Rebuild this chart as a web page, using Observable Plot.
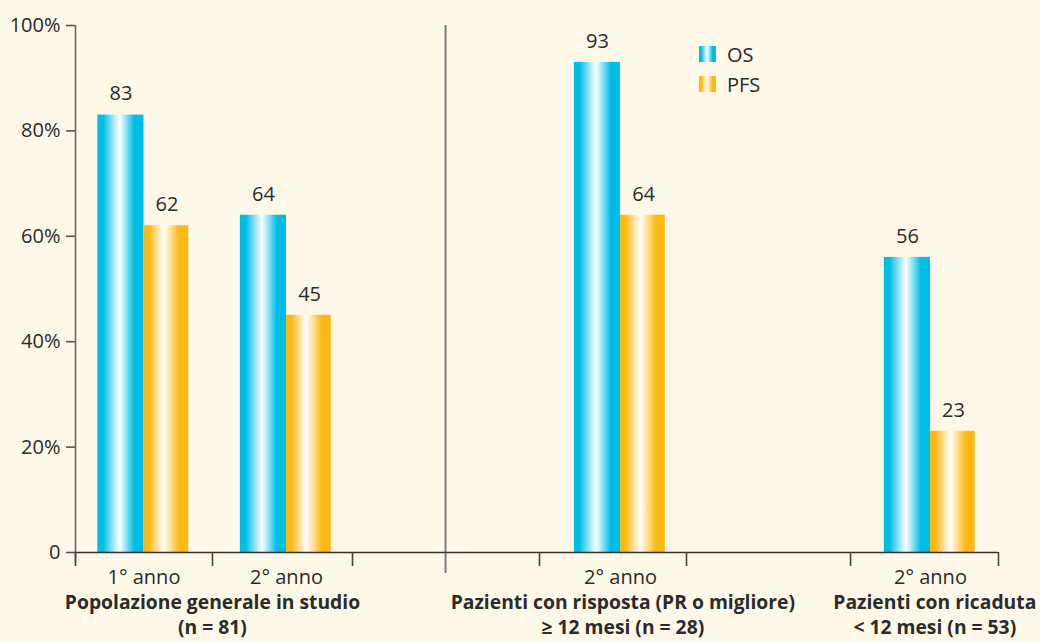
<!DOCTYPE html>
<html>
<head>
<meta charset="utf-8">
<script src="https://cdn.jsdelivr.net/npm/d3@7"></script>
<script src="https://cdn.jsdelivr.net/npm/@observablehq/plot@0.6"></script>
<style>
  html, body { margin: 0; padding: 0; background: #fef8e8; }
  #wrap { position: relative; width: 1040px; height: 642px; font-family: "Open Sans", sans-serif; color: #2b2b2b; }
  #legend { position: absolute; left: 699px; top: 39px; font-size: 20px; }
  .item { display: flex; align-items: center; height: 30px; }
  .sw { width: 17px; height: 16px; margin-right: 11px; }
</style>
</head>
<body>
<div id="wrap">
  <div id="legend"></div>
</div>
<script>
// ---- data ----
const periods = ["1° anno", "2° anno", "2° anno", "2° anno"];
const osValues = [83, 64, 93, 56];
const pfsValues = [62, 45, 64, 23];
const populations = [
  "Popolazione generale in studio\n(n = 81)",
  "Pazienti con risposta (PR o migliore)\n≥ 12 mesi (n = 28)",
  "Pazienti con ricaduta\n< 12 mesi (n = 53)"
];
const yTicks = [0, 20, 40, 60, 80, 100];
const seriesNames = ["OS", "PFS"];

// ---- layout (axis fraction, 0..100) ----
const slotCenters = [7.42, 22.86, 59.05, 92.63];
const slotBounds = [0, 14.84, 30.01, 50.27, 66.2, 83.97, 100];
const dividerX = 40.09;
const popCenters = [14.84, 59.3, 93.1];
const barW = 5;

const colOS = "#00bde6", colPFS = "#fdb913";

const rows = periods.map((p, i) => ({period: p, c: slotCenters[i], os: osValues[i], pfs: pfsValues[i]}));
const pops = populations.map((t, i) => ({t, c: popCenters[i]}));

const ink = "#2b2b2b";

const chart = Plot.plot({
  width: 1040,
  height: 642,
  marginLeft: 75,
  marginRight: 42,
  marginTop: 25,
  marginBottom: 90,
  style: {background: "#fef8e8", fontFamily: "Open Sans, sans-serif", fontSize: "20px", color: ink, overflow: "visible"},
  x: {domain: [0, 100], axis: null},
  y: {domain: [0, 100], axis: null},
  marks: [
    // bars
    Plot.rectY(rows, {x1: d => d.c - barW, x2: d => d.c, y: "os", fill: "url(#gOS)"}),
    Plot.rectY(rows, {x1: d => d.c, x2: d => d.c + barW * 0.97, y: "pfs", fill: "url(#gPFS)"}),
    // value labels
    Plot.text(rows, {x: d => d.c - barW / 2, y: "os", text: d => String(d.os), dy: -21, fontSize: 20, fill: ink}),
    Plot.text(rows, {x: d => d.c + barW / 2, y: "pfs", text: d => String(d.pfs), dy: -21, fontSize: 20, fill: ink}),
    // divider
    Plot.ruleX([dividerX], {y1: 100, y2: 0, insetBottom: -21, stroke: "#7d7d7d", strokeWidth: 2}),
    // y axis line
    Plot.ruleX([0], {y1: 100, y2: 0, insetBottom: -11, stroke: "#666", strokeWidth: 1.6}),
    Plot.axisY(yTicks, {tickSize: 9, tickPadding: 6, tickFormat: d => d === 0 ? "0" : d + "%", fontSize: 20, stroke: "#555", strokeWidth: 1.6, fill: ink, label: null}),
    // x axis line + ticks
    Plot.ruleY([0], {x1: 0, x2: 100, stroke: "#333", strokeWidth: 1.6}),
    Plot.ruleX(slotBounds, {y1: 0, y2: 0, insetBottom: -14, stroke: "#444", strokeWidth: 1.6}),
    // period labels
    Plot.text(rows, {x: "c", y: 0, text: "period", dy: 25, fontSize: 20, fill: ink}),
    // population labels
    Plot.text(pops, {x: "c", y: 0, text: "t", dy: 61, fontSize: 19.3, fontWeight: "bold", lineHeight: 1.3, fill: ink})
  ]
});

// gradients
const ns = "http://www.w3.org/2000/svg";
const defs = document.createElementNS(ns, "defs");
function grad(id, col, mid) {
  const g = document.createElementNS(ns, "linearGradient");
  g.setAttribute("id", id);
  g.setAttribute("x1", "0"); g.setAttribute("x2", "1");
  g.setAttribute("y1", "0"); g.setAttribute("y2", "0");
  [[0, col], [0.12, col], [mid, "#ffffff"], [0.8, col], [1, col]].forEach(([o, c]) => {
    const s = document.createElementNS(ns, "stop");
    s.setAttribute("offset", o);
    s.setAttribute("stop-color", c);
    g.appendChild(s);
  });
  defs.appendChild(g);
}
grad("gOS", colOS, 0.48);
grad("gPFS", colPFS, 0.45);
chart.insertBefore(defs, chart.firstChild);

const wrap = document.getElementById("wrap");
wrap.insertBefore(chart, wrap.firstChild);

// legend
const legend = document.getElementById("legend");
[[seriesNames[0], colOS], [seriesNames[1], colPFS]].forEach(([name, col]) => {
  const it = document.createElement("div");
  it.className = "item";
  const sw = document.createElement("div");
  sw.className = "sw";
  sw.style.background = `linear-gradient(90deg, ${col} 0%, ${col} 12%, #fff 48%, ${col} 80%, ${col} 100%)`;
  const tx = document.createElement("span");
  tx.textContent = name;
  it.appendChild(sw); it.appendChild(tx);
  legend.appendChild(it);
});
</script>
</body>
</html>
